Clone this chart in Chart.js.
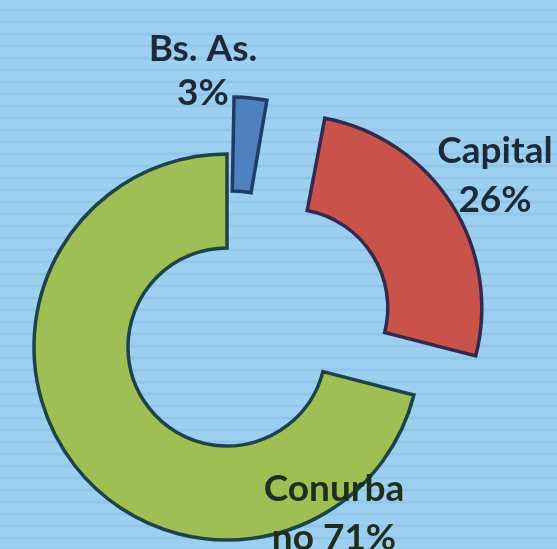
<!DOCTYPE html>
<html>
<head>
<meta charset="utf-8">
<script src="https://cdn.jsdelivr.net/npm/chart.js@4/dist/chart.umd.min.js"></script>
<style>
  html, body { margin: 0; padding: 0; }
  body {
    width: 557px; height: 549px; overflow: hidden;
    background-color: #9dd0f0;
    background-image: repeating-linear-gradient(to bottom, #9dd0f0 0px, #9dd0f0 8px, #92c5e8 9px, #92c5e8 11px, #9dd0f0 12px);
  }
  #wrap { position: absolute; left: 0; top: 0; width: 557px; height: 549px; }
</style>
</head>
<body>
<div id="wrap"><canvas id="c" width="557" height="549"></canvas></div>
<script>
// ---- data ----
const categories = ['Bs. As.', 'Capital', 'Conurbano'];
const values = [3, 26, 71];
const labelLines = [['Bs. As.', '3%'], ['Capital', '26%'], ['Conurba', 'no 71%']];

// ---- styles ----
const fillColors = ['#4f81c0', '#c9534b', '#9fbf55'];
const borderColors = ['#1f3b66', '#33294d', '#1c4447'];
const sliceOffsets = [126, 292, 0];
const labelAnchors = [[203, 49, 44], [495, 151, 49], [334, 489, 49]]; // x, y of first line, line gap
const labelColors = ['#1b2a3a', '#1b2a3a', '#1e2e1c'];

const labelPlugin = {
  id: 'sliceLabels',
  afterDraw(chart) {
    const ctx = chart.ctx;
    ctx.save();
    ctx.font = 'bold 37px Lato, "Open Sans", sans-serif';
    ctx.textAlign = 'center';
    ctx.textBaseline = 'middle';
    labelLines.forEach((lines, i) => {
      const [x, y, gap] = labelAnchors[i];
      ctx.fillStyle = labelColors[i];
      lines.forEach((t, j) => ctx.fillText(t, x, y + j * gap));
    });
    ctx.restore();
  }
};

new Chart(document.getElementById('c'), {
  type: 'doughnut',
  data: {
    labels: categories,
    datasets: [{
      data: values,
      backgroundColor: fillColors,
      borderColor: borderColors,
      borderWidth: 3.5,
      borderJoinStyle: 'miter',
      offset: sliceOffsets,
      hoverOffset: 0
    }]
  },
  options: {
    responsive: false,
    animation: false,
    events: [],
    radius: 193,
    cutout: '51.3%',
    rotation: 0,
    layout: { padding: { left: 0, right: 103, top: 145, bottom: 0 } },
    plugins: { legend: { display: false }, tooltip: { enabled: false } }
  },
  plugins: [labelPlugin]
});
</script>
</body>
</html>
